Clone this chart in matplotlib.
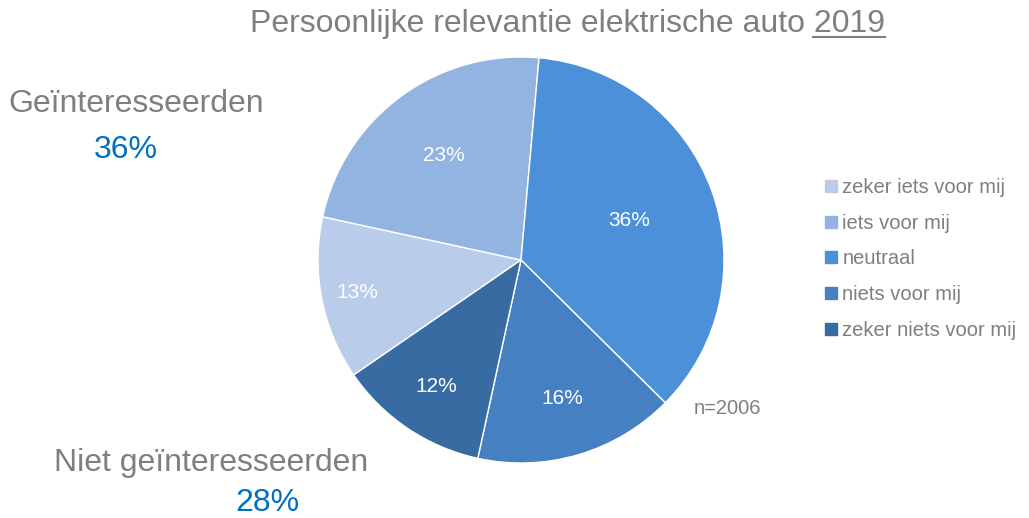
import matplotlib
matplotlib.use("Agg")
import matplotlib.pyplot as plt
from matplotlib.lines import Line2D
import numpy as np

plt.rcParams['font.family'] = ['Liberation Sans', 'DejaVu Sans']

# data
categories = ['zeker iets voor mij', 'iets voor mij', 'neutraal', 'niets voor mij', 'zeker niets voor mij']
values = [13, 23, 36, 16, 12]
colors = ['#B9CCEA', '#93B3E1', '#4B90D9', '#4580C3', '#396BA3']
interested = 36
not_interested = 28
n_total = 2006

# label distance from centre per slice (Excel "best fit" look)
label_dist = [0.82, 0.64, 0.57, 0.71, 0.75]

grey = '#7F7F7F'
blue = '#0070C0'

fig = plt.figure(figsize=(10.29, 5.18), dpi=100)
ax = fig.add_axes([318 / 1029, 55 / 518, 406 / 1029, 406 / 518])

wedges, texts = ax.pie(
    values, colors=colors, startangle=214.5, counterclock=False,
    wedgeprops=dict(edgecolor='white', linewidth=1))
for wd, v, d in zip(wedges, values, label_dist):
    mid = np.deg2rad((wd.theta1 + wd.theta2) / 2)
    ax.text(d * np.cos(mid), d * np.sin(mid), f'{v}%', ha='center', va='center',
            color='white', fontsize=15)
ax.set_aspect('equal')
ax.set_xlim(-1, 1)
ax.set_ylim(-1, 1)

# title with underlined year
title_main = 'Persoonlijke relevantie elektrische auto '
t = fig.text(567 / 1029, 1 - 24 / 518, title_main + '2019', ha='center', va='center',
             fontsize=23, color=grey)
fig.canvas.draw()
r = fig.canvas.get_renderer()
bb = t.get_window_extent(r)
t2 = fig.text(0, 0, '2019', fontsize=23)
w = t2.get_window_extent(r).width
t2.remove()
y_ul = (bb.y0 + 2) / fig.bbox.height
fig.add_artist(Line2D([(bb.x1 - w) / fig.bbox.width, bb.x1 / fig.bbox.width], [y_ul, y_ul],
                      color=grey, linewidth=1.5, transform=fig.transFigure))

# side annotations
fig.text(136 / 1029, 1 - 104 / 518, 'Geïnteresseerden', ha='center', va='center', fontsize=23, color=grey)
fig.text(126 / 1029, 1 - 150 / 518, f'{interested}%', ha='center', va='center', fontsize=23, color=blue)
fig.text(211 / 1029, 1 - 463 / 518, 'Niet geïnteresseerden', ha='center', va='center', fontsize=23, color=grey)
fig.text(267 / 1029, 1 - 503 / 518, f'{not_interested}%', ha='center', va='center', fontsize=23, color=blue)
fig.text(694 / 1029, 1 - 408 / 518, f'n={n_total}', ha='left', va='center', fontsize=14.5, color=grey)

# legend
handles = [plt.Line2D([0], [0], marker='s', linestyle='', markersize=8, color=c) for c in colors]
leg = fig.legend(handles, categories, loc='upper left', bbox_to_anchor=(813 / 1029, 1 - 168 / 518),
                 frameon=False, fontsize=14.5, labelcolor=grey, handlelength=0.8,
                 handletextpad=0.15, labelspacing=0.83, borderpad=0)

fig.savefig('out.png', dpi=100)
